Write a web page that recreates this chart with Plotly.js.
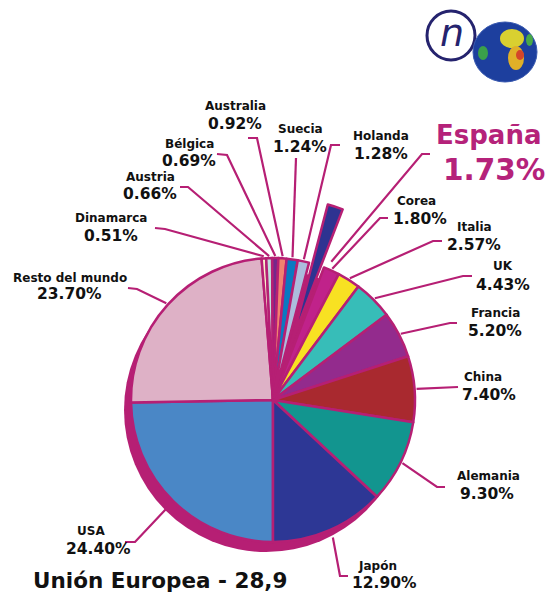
<!DOCTYPE html>
<html>
<head>
<meta charset="utf-8">
<script src="https://cdn.plot.ly/plotly-3.0.1.min.js"></script>
<style>
  html, body { margin: 0; padding: 0; background: #ffffff; }
  #chart { width: 552px; height: 604px; }
</style>
</head>
<body>
<div id="chart"></div>
<script>
// ---- data (clockwise from 6 o'clock) ----
var countries = ["USA", "Resto del mundo", "Dinamarca", "Austria", "Bélgica", "Australia",
                 "Suecia", "Holanda", "España", "Corea", "Italia", "UK", "Francia",
                 "China", "Alemania", "Japón"];
var shares = [24.40, 23.70, 0.51, 0.66, 0.69, 0.92, 1.24, 1.28, 1.73, 1.80, 2.57, 4.43,
              5.20, 7.40, 9.30, 12.90];
var shareLabels = ["24.40%", "23.70%", "0.51%", "0.66%", "0.69%", "0.92%", "1.24%", "1.28%",
                   "1.73%", "1.80%", "2.57%", "4.43%", "5.20%", "7.40%", "9.30%", "12.90%"];
var sliceColors = ["#4a87c6", "#deb1c6", "#f9f1cb", "#bfe0dc", "#74288a", "#f2826f",
                   "#0b79c1", "#acbcdd", "#2e3391", "#c0228a", "#f8e122", "#37bdb8",
                   "#932b8d", "#a9292f", "#12958f", "#2d3795"];
var highlight = "España";
var chartTitle = "Unión Europea - 28,9";

// ---- layout helpers ----
var W = 552, H = 604;
var CX = 273, CY = 400, R = 142;     // pie centre / radius in page pixels
var PULL = 0.43;
var SH_DX = -7, SH_DY = 10;          // shadow offset
var BORDER = "#b61f74";
function X(px) { return px / W; }
function Y(py) { return 1 - py / H; }

// mid angle (clockwise from 12 o'clock, degrees) of each slice, derived from the data
var ROT = 180;
var total = shares.reduce(function (a, b) { return a + b; }, 0);
var midAngles = [];
(function () {
  var acc = 0;
  for (var i = 0; i < shares.length; i++) {
    midAngles.push(ROT + 360 * (acc + shares[i] / 2) / total);
    acc += shares[i];
  }
})();
function rimPoint(i, r, dAng) {
  var a = (midAngles[i] + (dAng || 0)) * Math.PI / 180;
  return [CX + r * Math.sin(a), CY - r * Math.cos(a)];
}

// label placement (layout only): name centre, value centre, leader start, elbow, rim radius
var labelPos = {
  "USA":             {n: [91, 531], v: [98, 549], s: [125, 542], e: [135, 542], r: 150},
  "Resto del mundo": {n: [70, 278], v: [69, 294], s: [128, 288], e: [137, 289], r: 144},
  "Dinamarca":       {n: [111, 218], v: [111, 236], s: [155, 228], e: [165, 229], r: 144},
  "Austria":         {n: [150, 177], v: [150, 194], s: [180, 187], e: [188, 187], r: 144},
  "Bélgica":         {n: [189, 144], v: [189, 161], s: [217, 154], e: [227, 155], r: 144},
  "Australia":       {n: [235, 106], v: [235, 124], s: [248, 138], e: [257, 138], r: 144},
  "Suecia":          {n: [300, 129], v: [300, 147], s: [296, 158], e: [296, 158], r: 144},
  "Holanda":         {n: [381, 136], v: [381, 154], s: [340, 145], e: [331, 145], r: 144},
  "España":          {n: [488, 135], v: [494, 170], s: [430, 154], e: [422, 154], r: 150, d: 5},
  "Corea":           {n: [416, 201], v: [420, 219], s: [388, 218], e: [380, 218], r: 144},
  "Italia":          {n: [474, 227], v: [474, 245], s: [442, 241], e: [433, 241], r: 144},
  "UK":              {n: [503, 266], v: [503, 285], s: [472, 276], e: [463, 276], r: 144},
  "Francia":         {n: [495, 313], v: [495, 331], s: [457, 323], e: [450, 323], r: 144},
  "China":           {n: [483, 377], v: [489, 395], s: [458, 387], e: [458, 387], r: 144},
  "Alemania":        {n: [488, 476], v: [487, 494], s: [445, 487], e: [437, 487], r: 144},
  "Japón":           {n: [377, 566], v: [384, 583], s: [348, 576], e: [340, 576], r: 150}
};

var FONT = "DejaVu Sans, Verdana, sans-serif";
var annotations = [];
var shapes = [];

countries.forEach(function (c, i) {
  var p = labelPos[c];
  var big = (c === highlight);
  annotations.push({
    xref: "paper", yref: "paper", x: X(p.n[0]), y: Y(p.n[1]),
    xanchor: "center", yanchor: "middle", showarrow: false,
    text: "<b>" + c + "</b>",
    font: {family: FONT, size: big ? 26 : 12, color: big ? "#b5227a" : "#111111"}
  });
  annotations.push({
    xref: "paper", yref: "paper", x: X(p.v[0]), y: Y(p.v[1]),
    xanchor: "center", yanchor: "middle", showarrow: false,
    text: "<b>" + shareLabels[i] + "</b>",
    font: {family: FONT, size: big ? 29.5 : 15.5, color: big ? "#b5227a" : "#111111"}
  });
  var end = rimPoint(i, p.r, p.d || 0);
  shapes.push({
    type: "path", xref: "paper", yref: "paper",
    path: "M " + X(p.s[0]) + "," + Y(p.s[1]) +
          " L " + X(p.e[0]) + "," + Y(p.e[1]) +
          " L " + X(end[0]) + "," + Y(end[1]),
    line: {color: BORDER, width: 2.2}, layer: "above"
  });
});

// title
annotations.push({
  xref: "paper", yref: "paper", x: X(160), y: Y(580), xanchor: "center", yanchor: "middle",
  showarrow: false, text: "<b>" + chartTitle + "</b>",
  font: {family: FONT, size: 21.5, color: "#111111"}
});

// logo (decoration)
shapes.push({type: "circle", xref: "paper", yref: "paper",
  x0: X(427), x1: X(475), y0: Y(11), y1: Y(60),
  line: {color: "#25236e", width: 3}, fillcolor: "rgba(0,0,0,0)"});
annotations.push({xref: "paper", yref: "paper", x: X(452), y: Y(33), xanchor: "center", yanchor: "middle",
  showarrow: false, text: "<i>n</i>", font: {family: "DejaVu Sans, sans-serif", size: 38, color: "#25236e"}});
shapes.push({type: "circle", xref: "paper", yref: "paper",
  x0: X(473), x1: X(537), y0: Y(22), y1: Y(82),
  line: {color: "#3a5ab0", width: 1}, fillcolor: "#1d3f9e"});
shapes.push({type: "circle", xref: "paper", yref: "paper",
  x0: X(500), x1: X(524), y0: Y(29), y1: Y(48),
  line: {width: 0}, fillcolor: "#d9d030"});
shapes.push({type: "circle", xref: "paper", yref: "paper",
  x0: X(508), x1: X(524), y0: Y(46), y1: Y(70),
  line: {width: 0}, fillcolor: "#e0b028"});
shapes.push({type: "circle", xref: "paper", yref: "paper",
  x0: X(516), x1: X(524), y0: Y(50), y1: Y(60),
  line: {width: 0}, fillcolor: "#d4452a"});
shapes.push({type: "circle", xref: "paper", yref: "paper",
  x0: X(478), x1: X(488), y0: Y(46), y1: Y(60),
  line: {width: 0}, fillcolor: "#3aa04a"});
shapes.push({type: "circle", xref: "paper", yref: "paper",
  x0: X(526), x1: X(533), y0: Y(34), y1: Y(46),
  line: {width: 0}, fillcolor: "#48a848"});

// ---- traces ----
var S = R * (1 + PULL);
var mainDomain = {x: [X(CX - S), X(CX + S)], y: [Y(CY + S), Y(CY - S)]};
var shDomain = {x: [X(CX + SH_DX - R), X(CX + SH_DX + R)],
                y: [Y(CY + SH_DY + R), Y(CY + SH_DY - R)]};

var shadow = {
  type: "pie", values: [total], labels: ["sombra"], sort: false,
  marker: {colors: [BORDER], line: {color: BORDER, width: 0}},
  textinfo: "none", hoverinfo: "skip", showlegend: false, domain: shDomain
};
var pie = {
  type: "pie", values: shares, labels: countries, sort: false,
  direction: "clockwise", rotation: ROT,
  pull: countries.map(function (c) { return c === highlight ? PULL : 0; }),
  marker: {colors: sliceColors, line: {color: BORDER, width: 2.5}},
  textinfo: "none", showlegend: false, domain: mainDomain
};

var layout = {
  width: W, height: H,
  margin: {l: 0, r: 0, t: 0, b: 0, pad: 0},
  paper_bgcolor: "#ffffff", plot_bgcolor: "#ffffff",
  showlegend: false,
  annotations: annotations,
  shapes: shapes
};

Plotly.newPlot("chart", [shadow, pie], layout, {displayModeBar: false, staticPlot: true});
</script>
</body>
</html>
